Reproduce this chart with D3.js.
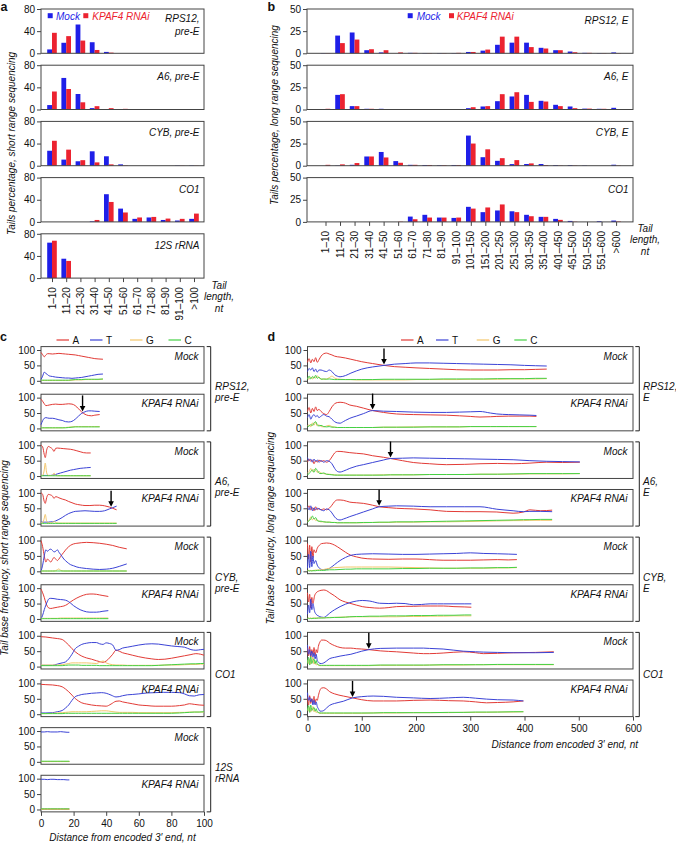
<!DOCTYPE html>
<html><head><meta charset="utf-8">
<script src="https://cdn.jsdelivr.net/npm/d3@7"></script>
<style>body{margin:0;background:#fff}svg{display:block}text{font-family:"Liberation Sans",Arial,Helvetica,sans-serif}</style>
</head><body><svg id="chart" width="676" height="844"></svg>
<script>
// ---------------- DATA ----------------
const aCats = ["1–10","11–20","21–30","31–40","41–50","51–60","61–70","71–80","81–90","91–100",">100"];
const aNames = [["RPS12,","pre-E"],["A6, pre-E"],["CYB, pre-E"],["CO1"],["12S rRNA"]];
const aMockRPS12 = [7,19,52,20,2.5,0,0,0,0,0,0];
const aRnaiRPS12 = [37,31,23,6,1.2,0,0,0,0,0,0];
const aMockA6 = [8,57,28,2.5,0,0,0.3,0,0,0,0];
const aRnaiA6 = [32.5,37,13,6,2.4,1.2,0.4,0,0,0,0];
const aMockCYB = [27,11,8,26,17,2.4,0,0,0,0.5,0.5];
const aRnaiCYB = [45,29,10,6,2.4,0.5,0,0,0,0.3,0.3];
const aMockCO1 = [0,0,0,1,50,24,5.5,8,3.5,2.5,5.5];
const aRnaiCO1 = [0,0,0,3.5,36,17,8,9,6,5.5,15];
const aMock12S = [64,35,0,0,0,0,0,0,0,0,0];
const aRnai12S = [67.5,31,0,0,0,0,0,0,0,0,0];
const aTicks = [0,40,80];

const bCats = ["1–10","11–20","21–30","31–40","41–50","51–60","61–70","71–80","81–90","91–100","101–150","151–200","201–250","251–300","301–350","351–400","401–450","451–500","501–550","551–600",">600"];
const bNames = [["RPS12, E"],["A6, E"],["CYB, E"],["CO1"]];
const bMockRPS12 = [0.3,20,23.5,3.5,1,0,0.5,0.3,0.3,0.3,1.5,3,9.6,12,12,6.2,3.5,2,0.5,0.3,1];
const bRnaiRPS12 = [0.3,11.5,15.5,4.6,3.5,1,0.5,0.3,0.3,0.5,1.5,4.2,18.8,18.8,7,5.4,3.5,1.2,0.5,0.3,0.3];
const bMockA6 = [0.5,16.5,3.8,0.8,0.8,0.5,0.3,0.3,0.3,0.3,1.5,3.4,9.4,14.7,16.5,9.8,5.3,3.4,1,0.8,1.9];
const bRnaiA6 = [0.8,17.3,3.8,0.8,0.3,0.3,0.3,0.3,0.3,0.3,2.6,3.8,17.3,19.5,8.6,9,3.8,1.5,1,0.8,0.5];
const bMockCYB = [0,0.3,1,10.4,15.5,5.2,1,0.8,0.5,0.8,34,9.6,5.5,1.8,1.9,1.9,0.7,0.7,0.3,0,1.1];
const bRnaiCYB = [1,1.5,3,10.4,9.3,3.3,1,0.8,0.5,0.8,25,18.5,8.5,6.3,2.6,0.7,0.3,0.3,0,0,0.3];
const bMockCO1 = [0,0,0,0,0,0,6,8,4.9,4.5,17,11,12.9,12,8,5.7,3.4,1.1,0,0.8,1.5];
const bRnaiCO1 = [0,0,0,0,0,0.3,3,4.9,4.9,4.9,15,16.3,19.7,11,6.4,5.7,2.3,0.3,0,0,0.5];
const bTicks = [0,25,50];

// line data rows: [distance, A, T, G, C]
const cRPS12Mock = [[0,92,4,2,2],[1,85,15,1,2],[2,78,28,1,2],[3,84,24,1,2],[4,88,20,1,2],[5,88,16,1,2],[7,87,14,1,2],[9,88,12,1,2],[11,89,11,1,2],[13,88,10,1,2],[15,87,9,1,2],[17,86,9,1,2],[19,85,8,2,3],[21,84,9,3,4],[23,82,10,3,4],[25,80,11,3,4],[27,78,13,4,5],[29,76,15,4,5],[31,74,17,4,5],[33,72,19,4,5],[35,71,21,4,5],[38,70,22,5,6]];
const cRPS12Rnai = [[0,95,12,3,2],[1,88,25,2,2],[2,80,33,2,2],[3,74,35,2,2],[5,76,33,2,2],[7,78,33,2,2],[9,79,31,2,2],[11,78,28,2,2],[13,78,26,2,2],[15,79,22,3,2],[17,80,21,4,3],[19,79,23,5,4],[21,74,30,6,5],[23,64,40,6,5],[25,53,49,6,5],[27,46,54,6,5],[29,42,57,6,5],[31,41,57,6,5],[33,43,56,6,5],[36,45,55,6,5]];
const cA6Mock = [[0,100,2,2,1],[1,95,2,2,1],[2,70,2,20,1],[2.6,60,2,42,1],[3.5,85,2,10,1],[4.5,96,2,2,1],[6,92,2,2,1],[7,88,3,2,1],[8,80,4,10,1],[9,90,5,2,1],[10,91,7,1,1],[12,90,10,1,1],[14,89,13,1,1],[16,88,16,1,1],[18,87,19,1,1],[20,85,21,1,1],[22,82,23,1,1],[24,79,25,1,1],[26,76,26,1,1],[28,75,27,1,1],[30.5,75,28,1,1]];
const cA6Rnai = [[0,100,5,3,1],[1,95,5,3,1],[2,72,5,18,1],[2.6,66,5,30,1],[3.5,85,5,8,1],[4.5,95,5,3,1],[6,93,6,3,1],[7,90,6,3,1],[8,82,7,8,1],[9,88,9,3,1],[11,84,14,2,1],[13,80,20,2,1],[15,77,27,2,1],[17,72,33,2,1],[19,68,37,2,1],[21,64,40,2,1],[24,61,41,2,1],[27,59,42,2,1],[30,59,41,2,1],[33,60,40,2,1],[36,60,40,2,1],[39,58,42,2,1],[42,54,48,2,1],[44,50,52,2,1],[46.4,45,57,2,1]];
const cCYBMock = [[0,100,0,1,1],[1,80,20,1,1],[2,50,50,1,1],[3,30,70,1,1],[4,40,65,1,1],[5,35,70,1,1],[6,30,72,1,1],[7,38,68,1,1],[8,45,63,1,1],[9,40,65,2,1],[10,35,70,5,1],[11,40,62,8,1],[12,48,55,3,1],[14,62,40,1,1],[16,75,30,1,1],[18,84,22,1,1],[20,89,18,1,1],[22,91,14,1,1],[25,93,11,1,1],[28,94,9,1,1],[32,93,7,1,1],[36,91,6,1,1],[40,88,7,1,1],[44,84,10,1,1],[48,78,16,1,1],[52.6,73,24,1,1]];
const cCYBRnai = [[0,97,0,2,1],[1,85,12,2,1],[2,70,30,2,1],[3,52,45,2,1],[4,40,58,2,1],[5,35,66,2,1],[6,34,67,2,1],[8,36,66,2,1],[10,38,64,2,1],[12,40,63,3,1],[14,42,62,3,1],[16,47,59,3,1],[18,55,52,3,1],[20,62,43,3,1],[22,68,36,3,1],[24,73,30,3,1],[26,77,26,3,1],[28,80,23,3,1],[30,81,22,3,1],[32,81,22,3,1],[34,80,22,3,1],[36,78,23,3,1],[38,76,25,3,1],[41.3,73,27,3,1]];
const cCO1Mock = [[0,97,4,5,3],[3,96,4,5,3],[7,93,4,5,3],[10,91,8,5,3],[13,88,12,6,3],[15,80,15,8,4],[17,70,25,10,5],[19,58,40,12,5],[21,48,58,12,5],[23,40,66,12,5],[25,34,72,12,4],[28,28,76,12,4],[31,24,78,11,4],[34,19,78,10,4],[36,16,74,14,3],[38,14,72,18,3],[40,18,77,12,3],[42,28,75,8,3],[44,40,70,6,3],[46,53,53,5,3],[48,50,55,5,3],[50,45,60,5,3],[53,41,63,4,3],[56,37,66,4,3],[60,32,70,4,3],[64,28,73,4,3],[68,25,74,4,3],[72,23,73,4,4],[76,24,70,5,5],[80,27,67,5,6],[84,31,65,5,7],[88,35,63,6,8],[92,39,55,7,9],[95,42,53,7,9],[98,40,55,8,10],[100,37,56,8,10]];
const cCO1Rnai = [[0,97,4,2,2],[3,96,4,2,2],[7,95,5,3,2],[10,93,8,4,2],[13,89,12,5,2],[15,82,20,6,3],[17,73,30,7,3],[19,62,45,8,3],[21,51,57,8,3],[23,43,61,8,3],[25,37,64,8,3],[28,33,66,8,3],[31,30,68,9,3],[34,28,69,10,3],[37,27,70,11,3],[40,26,68,11,3],[43,33,62,9,3],[46,42,56,7,3],[48,43,57,6,3],[50,40,60,6,3],[53,37,63,6,3],[56,34,64,6,3],[60,30,66,5,3],[65,28,69,5,3],[70,26,70,5,3],[75,26,71,5,3],[80,26,71,5,3],[85,28,70,6,4],[88,30,66,6,5],[91,34,60,7,6],[94,32,59,7,7],[97,30,63,7,7],[100,29,64,7,8]];
const c12SMock = [[0,1,97,1,2],[2,1,97,1,2],[4,1,98,1,2],[6,1,97,1,2],[8,1,97,1,2],[10,1,97,1,2],[12,1,98,1,2],[14,1,97,1,2],[16,1,96,1,2],[17.4,1,96,1,2]];
const c12SRnai = [[0,1,98,1,2],[2,1,98,1,2],[4,1,97,1,2],[6,1,98,1,2],[8,1,98,1,2],[10,1,97,1,2],[12,1,97,1,2],[14,1,97,1,2],[16,1,96,1,2],[17.4,1,96,1,2]];

const dRPS12Mock = [[0,60,30,8,5],[3,72,40,5,15],[6,58,35,12,6],[9,70,42,6,14],[12,62,30,14,8],[15,75,38,8,18],[18,60,28,16,8],[21,68,35,10,12],[25,80,35,6,5],[30,88,32,5,6],[35,90,30,6,5],[40,87,35,10,6],[45,84,30,15,5],[50,80,20,9,4],[55,78,15,6,4],[60,77,13,5,4],[70,74,17,4,4],[80,70,25,4,4],[90,66,32,3,4],[100,62,38,3,4],[120,56,45,3,4],[141,50,50,3,5],[160,46,54,3,5],[180,44,56,3,5],[200,42,58,4,5],[225,40,58,4,5],[250,38,57,4,6],[275,36,56,4,6],[300,35,55,5,6],[325,35,54,5,6],[350,35,53,5,7],[375,36,52,6,7],[400,36,50,6,7],[420,37,49,6,8],[441,38,48,7,8]];
const dRPS12Rnai = [[0,55,35,8,5],[3,68,45,12,8],[6,50,30,5,12],[9,65,40,18,10],[12,55,45,10,18],[15,70,38,20,22],[18,58,42,8,12],[21,62,35,12,8],[25,55,40,6,10],[30,48,45,5,6],[35,45,40,8,5],[40,55,38,10,6],[45,70,30,6,4],[50,80,22,4,4],[55,84,18,3,3],[60,85,17,3,3],[66,84,22,3,3],[70,82,26,3,3],[78,76,33,3,3],[90,72,40,3,3],[103,66,48,3,3],[120,58,58,3,3],[140,52,56,4,4],[164,47,55,4,4],[195,45,53,5,4],[226,44,52,5,5],[256,43,52,5,5],[280,41,53,5,5],[300,39,54,6,6],[318,37,55,6,6],[337,38,50,6,6],[349,39,47,6,6],[370,40,45,6,6],[390,40,44,6,6],[410,40,43,6,6],[422,39,42,6,6]];
const dA6Mock = [[0,45,60,10,5],[3,55,50,15,8],[6,48,55,25,15],[9,52,45,15,20],[12,40,55,22,12],[15,50,48,18,25],[18,45,52,12,18],[21,52,45,15,10],[25,48,50,10,8],[30,50,45,8,10],[35,45,50,6,6],[40,50,48,6,5],[45,62,40,5,4],[50,75,25,4,3],[55,80,15,3,3],[60,80,13,3,3],[66,79,16,3,3],[78,76,25,3,3],[90,74,32,3,3],[103,72,37,3,3],[120,66,44,3,3],[140,61,52,4,3],[153,57,57,4,4],[175,50,58,4,4],[195,44,59,4,4],[225,40,58,5,5],[256,37,57,5,5],[290,38,56,5,5],[318,40,55,6,6],[350,41,54,6,6],[379,40,53,6,7],[410,42,50,7,8],[440,45,48,7,8],[470,44,47,7,8],[502,45,46,8,8]];
const dA6Rnai = [[0,50,55,8,5],[3,58,45,12,10],[6,45,58,22,15],[9,52,42,12,25],[12,42,52,18,15],[15,55,45,10,20],[18,45,50,12,10],[21,50,48,8,8],[25,45,45,6,8],[30,48,42,6,6],[35,45,48,5,5],[40,50,45,5,5],[45,60,35,4,4],[50,72,22,4,4],[55,77,14,3,3],[60,77,12,3,3],[66,76,15,3,3],[78,70,23,3,3],[90,68,30,3,3],[103,66,38,3,4],[120,60,48,4,4],[132,55,55,4,5],[150,52,57,4,5],[164,50,58,5,6],[195,48,57,5,6],[226,45,55,6,7],[256,40,55,6,8],[290,39,55,7,9],[318,39,55,8,10],[349,38,47,9,11],[379,34,42,10,12],[398,38,39,10,13],[410,45,40,11,13],[430,42,40,11,14],[451,44,39,11,14]];
const dCYBMock = [[0,90,10,2,1],[2,40,55,3,2],[4,85,12,2,1],[6,30,65,3,2],[8,80,15,2,1],[10,45,50,3,2],[12,70,25,3,2],[15,60,35,4,2],[18,75,20,4,3],[22,85,10,5,3],[26,90,6,5,3],[30,91,5,6,3],[35,92,6,8,4],[41,91,10,10,5],[50,85,22,12,5],[60,74,35,13,6],[70,62,45,14,7],[80,52,52,14,7],[90,47,55,14,8],[100,43,56,14,8],[120,40,57,14,8],[150,39,56,14,8],[175,40,55,13,9],[200,40,55,12,9],[225,38,56,11,10],[250,36,57,10,10],[275,36,58,10,10],[300,36,60,10,11],[325,37,58,10,11],[350,38,57,11,12],[370,37,56,11,12],[386,38,55,12,13]];
const dCYBRnai = [[0,85,15,2,1],[2,55,45,3,2],[4,80,20,2,1],[6,35,65,3,2],[8,70,30,2,1],[10,50,50,3,2],[13,75,25,3,2],[16,85,15,3,2],[20,90,10,3,3],[25,93,6,4,3],[30,94,5,4,3],[35,92,10,4,4],[41,85,19,5,4],[50,75,30,5,5],[60,62,40,6,5],[70,55,48,6,6],[78,51,53,7,7],[90,45,58,7,8],[101,40,60,7,8],[115,37,58,7,9],[133,35,51,7,9],[150,37,50,7,10],[164,40,51,7,10],[180,41,50,8,10],[195,41,46,8,11],[210,42,47,8,11],[226,42,49,9,11],[240,42,49,9,12],[251,42,49,9,12],[270,40,49,10,12],[290,39,49,10,13],[302,38,49,10,13]];
const dCO1Mock = [[0,60,70,20,10],[2,35,40,10,30],[4,65,55,25,5],[6,30,35,8,32],[8,55,50,15,10],[10,40,30,30,20],[12,62,45,8,25],[14,35,25,15,10],[16,55,40,5,20],[18,45,20,8,8],[20,65,15,4,6],[23,80,10,3,4],[26,86,10,3,4],[30,86,12,3,4],[35,84,18,3,4],[41,76,26,3,4],[50,68,30,3,4],[60,62,34,3,4],[70,60,37,3,4],[80,60,40,3,4],[90,58,45,3,4],[100,57,50,3,4],[113,55,55,3,4],[134,51,59,4,5],[164,48,60,4,5],[195,44,60,4,5],[214,42,60,4,5],[225,42,59,5,5],[250,44,57,5,6],[287,48,50,5,6],[310,45,48,6,6],[324,42,47,6,6],[350,43,46,6,7],[379,45,45,6,7],[420,46,45,6,7],[454,48,46,6,7]];
const dCO1Rnai = [[0,55,70,18,12],[2,30,45,10,28],[4,60,55,22,6],[6,35,40,8,30],[8,50,50,15,12],[10,38,30,25,18],[12,58,45,8,22],[14,35,30,12,10],[16,50,40,5,18],[18,45,25,8,8],[20,60,18,4,6],[23,78,10,3,4],[26,85,10,3,4],[30,86,12,3,4],[35,82,20,3,4],[41,73,29,3,4],[50,66,35,3,4],[66,59,42,3,4],[83,53,53,3,4],[100,47,57,3,4],[121,43,59,4,4],[140,43,58,4,5],[164,43,55,4,5],[195,45,53,5,5],[226,46,51,5,5],[260,44,53,5,6],[287,43,55,6,6],[310,40,52,6,7],[330,37,49,6,7],[350,38,47,7,7],[379,40,46,7,8],[398,43,43,8,8]];
const lineTicks = [0,50,100];
const cXTicks = [0,20,40,60,80,100];
const dXTicks = [0,100,200,300,400,500,600];
const bases = ["A","T","G","C"];
// arrows: [panel index, distance, value]
const cArrows = [[1,25.5,52],[3,43,52]];
const dArrows = [[0,141,50],[1,120,58],[2,153,57],[3,132,55],[6,113,55],[7,83,53]];

// ---------------- DRAWING ----------------
const svg = d3.select("#chart");
const BLUE = "#1f1fe8", RED = "#ec2330";
const LC = {A:"#e23b36", T:"#3b43d6", G:"#f3c66c", C:"#45d145"};
const AX = "#444";

function text(x, y, s, o = {}) {
  const t = svg.append("text").attr("x", x).attr("y", y).text(s)
    .attr("font-size", o.size || 10).attr("fill", o.fill || "#111")
    .attr("text-anchor", o.anchor || "start");
  if (o.italic) t.attr("font-style", "italic");
  if (o.bold) t.attr("font-weight", "bold");
  if (o.rotate) t.attr("transform", `rotate(-90,${x},${y})`);
  return t;
}
function styleAxis(g) {
  g.select(".domain").remove();
  g.selectAll(".tick line").attr("stroke", AX);
  g.selectAll(".tick text").attr("font-size", 10).attr("fill", "#111")
    .attr("font-family", '"Liberation Sans",Arial,sans-serif');
}

function barPanel(o) {
  const y = d3.scaleLinear().domain([0, o.ymax]).range([o.top + o.h, o.top]);
  const sub = d3.scaleBand().domain(["m", "r"]).range([-4.8, 4.8]);
  const g = svg.append("g");
  g.selectAll("rect.m").data(o.cats).join("rect").attr("class", "m")
    .attr("x", c => o.x(c) + sub("m")).attr("width", sub.bandwidth())
    .attr("y", (c, i) => y(o.mock[i])).attr("height", (c, i) => y(0) - y(o.mock[i])).attr("fill", BLUE);
  g.selectAll("rect.r").data(o.cats).join("rect").attr("class", "r")
    .attr("x", c => o.x(c) + sub("r")).attr("width", sub.bandwidth())
    .attr("y", (c, i) => y(o.rnai[i])).attr("height", (c, i) => y(0) - y(o.rnai[i])).attr("fill", RED);
  g.append("rect").attr("x", o.left).attr("y", o.top).attr("width", o.right - o.left).attr("height", o.h)
    .attr("fill", "none").attr("stroke", AX).attr("stroke-width", 1);
  g.append("g").attr("transform", `translate(${o.left},0)`)
    .call(d3.axisLeft(y).tickValues(o.ticks).tickSize(4).tickPadding(2)).call(styleAxis);
  o.names.forEach((s, i) => text(o.right - 4.5, o.top + (o.names.length > 1 ? 13 : 15) + i * 13, s, {italic: true, anchor: "end"}));
  if (o.axis) {
    g.append("g").attr("transform", `translate(0,${o.top + o.h})`)
      .call(d3.axisBottom(o.x).tickSize(4).tickFormat("")).call(styleAxis);
    o.cats.forEach(c => text(o.x(c) + 3.6, o.top + o.h + 9, c, {anchor: "end", rotate: true}));
  }
  return y;
}

// panel a
const xa = d3.scalePoint().domain(aCats).range([52, 194]);
const aMocks = [aMockRPS12, aMockA6, aMockCYB, aMockCO1, aMock12S];
const aRnais = [aRnaiRPS12, aRnaiA6, aRnaiCYB, aRnaiCO1, aRnai12S];
aMocks.forEach((m, i) => barPanel({x: xa, cats: aCats, mock: m, rnai: aRnais[i], top: 9 + i * 56.2, h: 44.3,
  ymax: 80, ticks: aTicks, left: 41, right: 204, names: aNames[i], axis: i === 4}));
// panel b
const xb = d3.scalePoint().domain(bCats).range([325.5, 616.1]);
const bMocks = [bMockRPS12, bMockA6, bMockCYB, bMockCO1];
const bRnais = [bRnaiRPS12, bRnaiA6, bRnaiCYB, bRnaiCO1];
bMocks.forEach((m, i) => barPanel({x: xb, cats: bCats, mock: m, rnai: bRnais[i], top: 9 + i * 56.2, h: 44.3,
  ymax: 50, ticks: bTicks, left: 307, right: 633, names: bNames[i], axis: i === 3}));

// legends a & b
[[47.7, 56, 83.3, 92.3], [407.7, 416.7, 449, 456.7]].forEach(p => {
  svg.append("rect").attr("x", p[0]).attr("y", 13.2).attr("width", 5).attr("height", 5).attr("fill", BLUE);
  text(p[1], 19.5, "Mock", {italic: true, fill: BLUE});
  svg.append("rect").attr("x", p[2]).attr("y", 13.2).attr("width", 5).attr("height", 5).attr("fill", RED);
  text(p[3], 19.5, "KPAF4 RNAi", {italic: true, fill: RED});
});
// tail length labels
[["Tail", 0], ["length,", 1], ["nt", 2]].forEach(([s, i]) => {
  text(219, 288.5 + i * 11.5, s, {italic: true, anchor: "middle"});
  text(645, 232 + i * 11.3, s, {italic: true, anchor: "middle"});
});

// line panels
function linePanel(o) {
  const y = d3.scaleLinear().domain([0, 100]).range([o.top + 34.2, o.top + 3.4]);
  const g = svg.append("g");
  g.append("rect").attr("x", o.left).attr("y", o.top).attr("width", o.right - o.left).attr("height", 36.6)
    .attr("fill", "none").attr("stroke", AX).attr("stroke-width", 1);
  bases.forEach((b, k) => {
    g.append("path").datum(o.rows)
      .attr("d", d3.line().x(d => o.x(d[0])).y(d => y(d[k + 1])).curve(d3.curveMonotoneX))
      .attr("fill", "none").attr("stroke", LC[b]).attr("stroke-width", 1);
  });
  g.append("g").attr("transform", `translate(${o.left},0)`)
    .call(d3.axisLeft(y).tickValues(lineTicks).tickSize(4).tickPadding(2)).call(styleAxis);
  text(o.right - 5.5, o.top + 13, o.name, {italic: true, anchor: "end"});
  if (o.xticks) {
    g.append("g").attr("transform", `translate(0,${o.top + 36.6})`)
      .call(d3.axisBottom(o.x).tickValues(o.xticks).tickSize(4).tickPadding(4)).call(styleAxis);
  }
  return y;
}
function arrow(x, y, xv, yv) {
  const tx = x(xv), ty = y(yv) - 1;
  svg.append("line").attr("x1", tx).attr("x2", tx).attr("y1", ty - 16).attr("y2", ty - 4)
    .attr("stroke", "#000").attr("stroke-width", 1.4);
  svg.append("path").attr("d", `M${tx - 2.8},${ty - 5.5}L${tx + 2.8},${ty - 5.5}L${tx},${ty}Z`).attr("fill", "#000");
}
const panelTop = i => 346.6 + i * 47.63;
const xc = d3.scaleLinear().domain([0, 100]).range([41, 204]);
const xd = d3.scaleLinear().domain([0, 600]).range([307.5, 633]);
const cRows = [cRPS12Mock, cRPS12Rnai, cA6Mock, cA6Rnai, cCYBMock, cCYBRnai, cCO1Mock, cCO1Rnai, c12SMock, c12SRnai];
const dRows = [dRPS12Mock, dRPS12Rnai, dA6Mock, dA6Rnai, dCYBMock, dCYBRnai, dCO1Mock, dCO1Rnai];
const cY = cRows.map((r, i) => linePanel({x: xc, rows: r, top: panelTop(i), left: 41, right: 204,
  name: i % 2 ? "KPAF4 RNAi" : "Mock", xticks: i === 9 ? cXTicks : null}));
const dY = dRows.map((r, i) => linePanel({x: xd, rows: r, top: panelTop(i), left: 307.5, right: 633,
  name: i % 2 ? "KPAF4 RNAi" : "Mock", xticks: i === 7 ? dXTicks : null}));
cArrows.forEach(([p, xv, yv]) => arrow(xc, cY[p], xv, yv));
dArrows.forEach(([p, xv, yv]) => arrow(xd, dY[p], xv, yv));

// brackets
const cGroups = [["RPS12,", "pre-E"], ["A6,", "pre-E"], ["CYB,", "pre-E"], ["CO1"], ["12S", "rRNA"]];
const dGroups = [["RPS12,", "E"], ["A6,", "E"], ["CYB,", "E"], ["CO1"]];
function brackets(groups, bx, lx) {
  groups.forEach((lab, j) => {
    const t = panelTop(2 * j), b = panelTop(2 * j + 1) + 36.6, mid = (t + b) / 2;
    svg.append("path").attr("d", `M${bx - 4},${t}H${bx}V${b}H${bx - 4}`).attr("fill", "none").attr("stroke", "#222");
    if (lab.length === 1) text(lx, mid + 4, lab[0], {italic: true});
    else lab.forEach((s, k) => text(lx, mid + 1.5 + k * 11, s, {italic: true}));
  });
}
brackets(cGroups, 210.7, 215);
brackets(dGroups, 639.3, 643);

// legends c & d
function baseLegend(xs) {
  bases.forEach((b, k) => {
    svg.append("line").attr("x1", xs[k]).attr("x2", xs[k] + 12.5).attr("y1", 340).attr("y2", 340)
      .attr("stroke", LC[b]).attr("stroke-width", 1.2);
    text(xs[k] + 16, 343.6, b);
  });
}
baseLegend([56.5, 90, 130, 168.5]);
baseLegend([401, 436, 476.7, 514.3]);

// axis titles
text(122.5, 841, "Distance from encoded 3′ end, nt", {italic: true, anchor: "middle"});
text(638, 748, "Distance from encoded 3′ end, nt", {italic: true, anchor: "end"});
text(15, 143.5, "Tails percentage, short range sequencing", {italic: true, anchor: "middle", rotate: true});
text(278, 115, "Tails percentage, long range sequencing", {italic: true, anchor: "middle", rotate: true});
text(7.5, 558, "Tail base frequency, short range sequencing", {italic: true, anchor: "middle", rotate: true});
text(273.5, 528, "Tail base frequency, long range sequencing", {italic: true, anchor: "middle", rotate: true});

// panel letters
text(0.5, 11, "a", {bold: true, size: 12.5});
text(267.5, 11, "b", {bold: true, size: 12.5});
text(0, 340.5, "c", {bold: true, size: 12.5});
text(267.5, 340.5, "d", {bold: true, size: 12.5});
</script></body></html>
